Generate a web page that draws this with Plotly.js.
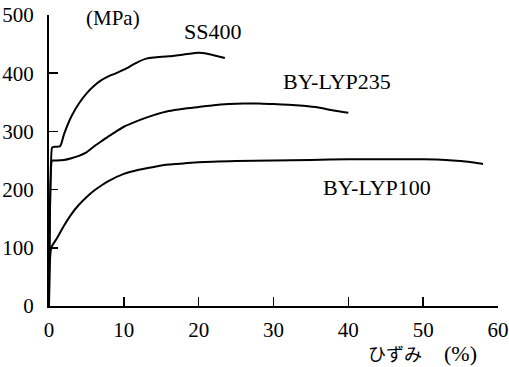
<!DOCTYPE html>
<html>
<head>
<meta charset="utf-8">
<script src="https://cdn.plot.ly/plotly-3.0.1.min.js"></script>
<style>
  html, body { margin: 0; padding: 0; background: #fff; }
  #chart { width: 509px; height: 367px; }
</style>
</head>
<body>
<div id="chart"></div>
<script>
// Stress–strain curves (strain in %, stress in MPa)
const ss400Strain = [0, 0.4, 0.5, 1.5, 2, 3, 4, 5, 6, 7, 8, 9, 10, 11, 12, 13, 14, 16, 18, 20, 21, 22, 23.5];
const ss400Stress = [0, 272, 273, 275, 295, 326, 348, 365, 378, 388, 395, 400, 406, 413, 420, 425, 427, 429, 432, 435, 434, 431, 426];

const lyp235Strain = [0, 0.4, 0.5, 1, 2, 3, 4, 5, 6, 7, 8, 9, 10, 12, 14, 16, 18, 20, 22, 24, 26, 28, 30, 32, 34, 36, 38, 40];
const lyp235Stress = [0, 250, 250, 250, 251, 254, 258, 264, 274, 283, 292, 300, 308, 319, 328, 335, 339, 342, 345, 347, 348, 348, 347, 346, 344, 341, 336, 332];

const lyp100Strain = [0, 0.3, 1, 2, 3, 4, 5, 6, 7, 8, 10, 12, 14, 16, 18, 20, 25, 30, 35, 40, 45, 50, 53, 55, 57, 58];
const lyp100Stress = [0, 100, 115, 138, 158, 174, 187, 198, 207, 215, 227, 234, 239, 243, 245, 247, 249, 250, 251, 252, 252, 252, 251, 249, 246, 244];

const xTicks = [0, 10, 20, 30, 40, 50, 60];
const yTicks = [0, 100, 200, 300, 400, 500];

const serif = "Liberation Serif";

const traces = [
  { x: ss400Strain, y: ss400Stress, name: "SS400" },
  { x: lyp235Strain, y: lyp235Stress, name: "BY-LYP235" },
  { x: lyp100Strain, y: lyp100Stress, name: "BY-LYP100" }
].map(t => Object.assign(t, {
  type: "scatter",
  mode: "lines",
  line: { color: "#000", width: 2, shape: "spline", smoothing: 0.6 },
  cliponaxis: false
}));

function axis(ticks, range, standoff) {
  return {
    range: range,
    tickvals: ticks,
    ticktext: ticks.map(String),
    showgrid: false,
    zeroline: false,
    showline: true,
    linecolor: "#000",
    linewidth: 2,
    ticks: "inside",
    ticklen: 9,
    tickwidth: 1.5,
    tickcolor: "#000",
    ticklabelstandoff: standoff,
    tickfont: { family: serif, size: 21, color: "#000" }
  };
}

const label = (text, x, y, size, family, ref) => ({
  text: text, x: x, y: y,
  xref: ref, yref: ref,
  xanchor: "center", yanchor: "middle",
  showarrow: false,
  font: { family: family, size: size, color: "#000" }
});

const layout = {
  width: 509,
  height: 367,
  margin: { l: 49, r: 11, t: 15, b: 61 },
  paper_bgcolor: "#fff",
  plot_bgcolor: "#fff",
  font: { family: serif, color: "#000" },
  showlegend: false,
  xaxis: axis(xTicks, [0, 60], 4),
  yaxis: axis(yTicks, [0, 500], 9),
  annotations: [
    Object.assign(label("(MPa)", 8.6, 495, 21, serif, "x"), { yref: "y" }),
    Object.assign(label("SS400", 21.8, 472, 22, serif, "x"), { yref: "y" }),
    Object.assign(label("BY-LYP235", 38.5, 385, 22, serif, "x"), { yref: "y" }),
    Object.assign(label("BY-LYP100", 43.8, 203, 22, serif, "x"), { yref: "y" }),
    label("ひずみ", (395 - 49) / 449, (306 - 353) / 291, 18, "Noto Sans CJK JP", "paper"),
    label("(%)", (460 - 49) / 449, (306 - 353) / 291, 22, serif, "paper")
  ]
};

Plotly.newPlot("chart", traces, layout, { staticPlot: true, displayModeBar: false });
</script>
</body>
</html>
